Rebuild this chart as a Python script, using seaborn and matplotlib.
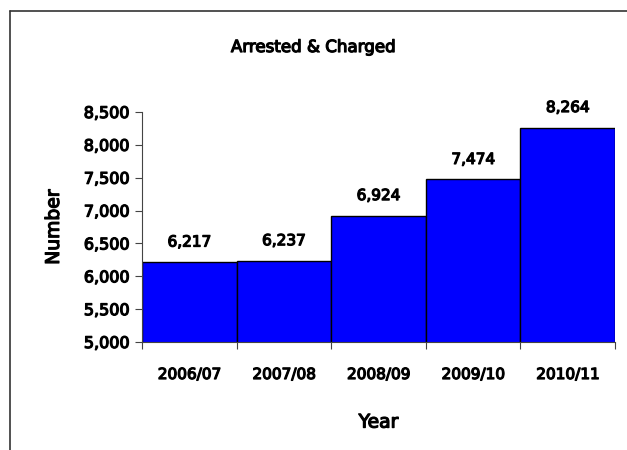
import matplotlib
matplotlib.use("Agg")
import matplotlib.pyplot as plt
import matplotlib.patheffects as pe
import seaborn as sns
import pandas as pd
from matplotlib.lines import Line2D
from matplotlib.ticker import FixedLocator, FuncFormatter

years = ["2006/07", "2007/08", "2008/09", "2009/10", "2010/11"]
values = [6217, 6237, 6924, 7474, 8264]
title = "Arrested & Charged"
xlabel = "Year"
ylabel = "Number"
yticks = [5000, 5500, 6000, 6500, 7000, 7500, 8000, 8500]

sns.set_style("white")
plt.rcParams['font.family'] = ['DejaVu Sans']
plt.rcParams['text.color'] = 'black'
plt.rcParams['axes.labelcolor'] = 'black'
plt.rcParams['xtick.color'] = 'black'
plt.rcParams['ytick.color'] = 'black'

semi = [pe.withStroke(linewidth=0.9, foreground="black")]

df = pd.DataFrame({"year": years, "value": values})

fig = plt.figure(figsize=(6.27, 4.5), dpi=100)
ax = fig.add_axes([142/627, 1-342/450, (615-142)/627, (342-112)/450])
sns.barplot(data=df, x="year", y="value", color="#0000FF", width=1.0,
            edgecolor="black", linewidth=1.0, saturation=1, ax=ax)

ax.set_ylim(5000, 8500)
ax.set_xlim(-0.5, len(years) - 0.5)
ax.set_yticks(yticks)
ax.yaxis.set_major_formatter(FuncFormatter(lambda v, p: f"{int(v):,}"))
ax.tick_params(axis="y", left=True, length=5, width=0.8, color="#444444",
               labelsize=11.5, pad=4)
ax.tick_params(axis="x", bottom=False, length=0, labelsize=11, pad=18)
ax.xaxis.set_minor_locator(FixedLocator([i - 0.5 for i in range(len(years) + 1)]))
ax.tick_params(axis="x", which="minor", bottom=True, length=5, width=0.8, color="#444444")
for lab in ax.get_xticklabels() + ax.get_yticklabels():
    lab.set_path_effects(semi)

for s in ["top", "right"]:
    ax.spines[s].set_visible(False)
for s in ["left", "bottom"]:
    ax.spines[s].set_color("#444444")
    ax.spines[s].set_linewidth(0.8)

for i, v in enumerate(values):
    ax.annotate(f"{v:,}", (i, v), xytext=(0, 9), textcoords="offset points",
                ha="center", va="bottom", fontsize=11, path_effects=semi)

ax.set_xlabel(xlabel, fontsize=13.5, labelpad=22, path_effects=semi)
ax.set_ylabel(ylabel, fontsize=13.5, labelpad=15, path_effects=semi)
fig.text(313/627, 1-47/450, title, ha="center", va="center",
         fontsize=12, path_effects=semi)

# outer frame (partially visible)
fig.add_artist(Line2D([10/627, 10/627], [0, 1-11/450], transform=fig.transFigure,
                      color="#333333", linewidth=1.2))
fig.add_artist(Line2D([10/627, 1], [1-11/450, 1-11/450], transform=fig.transFigure,
                      color="#333333", linewidth=1.2))

fig.savefig("out.png", dpi=100)
